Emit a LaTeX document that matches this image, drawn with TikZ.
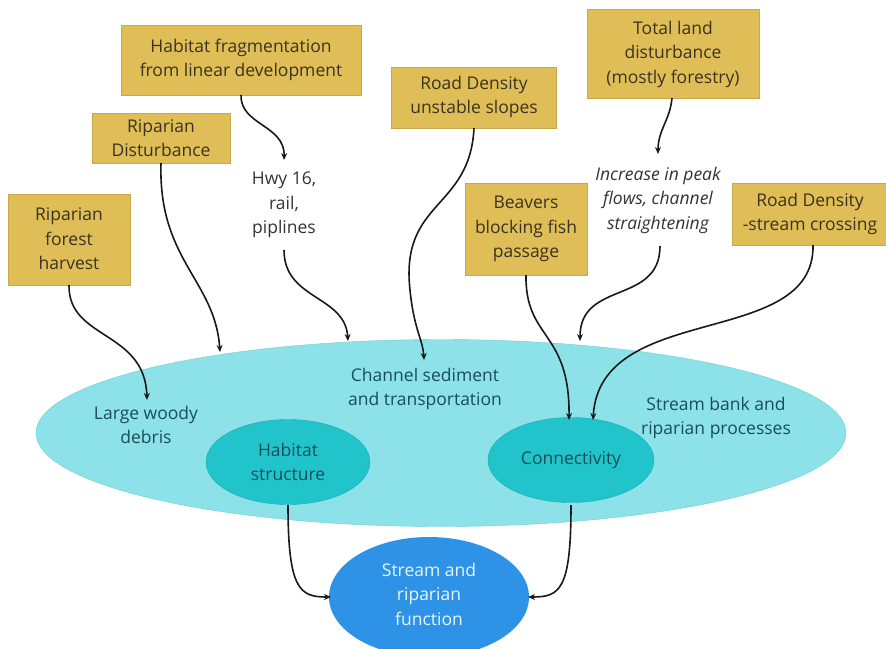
\documentclass[tikz,border=0pt]{standalone}
\usepackage{fontspec}
\setmainfont{Open Sans}
\usetikzlibrary{arrows.meta,shapes.geometric}
\definecolor{boxfill}{HTML}{DFBE57}
\definecolor{boxline}{HTML}{C9A94A}
\definecolor{bigell}{HTML}{8CE2E8}
\definecolor{bigline}{HTML}{6FCCD4}
\definecolor{smallell}{HTML}{22C4CC}
\definecolor{bluefn}{HTML}{2E93E6}
\definecolor{tealtxt}{HTML}{184E58}
\definecolor{boxtxt}{HTML}{3A3320}
\begin{document}
\begin{tikzpicture}[x=1pt,y=-1pt,
  every node/.style={font=\fontsize{17.5}{24.5}\selectfont, align=center, inner sep=0pt},
  ybox/.style={draw=boxline, fill=boxfill, text=boxtxt, line width=0.8pt},
  plain/.style={text=black!80},
  intext/.style={text=tealtxt},
  conn/.style={line width=1.6pt, black!90, -{Stealth[length=7pt,width=6pt]}}]
\useasboundingbox (0,0) rectangle (886,648);
% ellipses
\node[ellipse, draw=bigline, fill=bigell, minimum width=810pt, minimum height=187pt] (big) at (441,433) {};
\node[ellipse, fill=smallell, draw=smallell!85!black, minimum width=164pt, minimum height=85pt] (hab) at (288,462) {};
\node[ellipse, fill=smallell, draw=smallell!85!black, minimum width=166pt, minimum height=85pt] (con) at (571,460) {};
\node[ellipse, fill=bluefn, minimum width=200pt, minimum height=120pt] (fn) at (429,597) {};
\node[intext] at (hab) {Habitat\\structure};
\node[intext] at (con) {Connectivity};
\node[text=white!90!cyan] at (429,594) {Stream and\\riparian\\function};
\node[intext] (lwd) at (146,425) {Large woody\\debris};
\node[intext] (chs) at (425,389) {Channel sediment\\and transportation};
\node[intext] (sbr) at (716,418) {Stream bank and\\riparian processes};
% boxes
\path[ybox] (121,25) rectangle (361,95);
\node[text=boxtxt] (hf) at (241,60) {Habitat fragmentation\\from linear development};
\path[ybox] (92,113) rectangle (230,163);
\node[text=boxtxt] (rd) at (161,138) {Riparian\\Disturbance};
\path[ybox] (8,194) rectangle (130,285);
\node[text=boxtxt] (rf) at (69,239) {Riparian\\forest\\harvest};
\path[ybox] (391,67) rectangle (556,128);
\node[text=boxtxt] (rds) at (474,97) {Road Density\\unstable slopes};
\path[ybox] (587,9) rectangle (759,98);
\node[text=boxtxt] (tl) at (673,54) {Total land\\disturbance\\(mostly forestry)};
\path[ybox] (465,183) rectangle (587,275);
\node[text=boxtxt] (bv) at (526,229) {Beavers\\blocking fish\\passage};
\path[ybox] (732,183) rectangle (890,245);
\node[text=boxtxt] (rsc) at (810,214) {Road Density\\-stream crossing};
% plain texts
\node[plain] (hwy) at (284,205) {Hwy 16,\\rail,\\piplines};
\node[plain, font=\fontsize{17.5}{24.5}\selectfont\itshape] (inc) at (658,200) {Increase in peak\\flows, channel\\straightening};
% connector endpoints
\coordinate (hfb) at (241,95);
\coordinate (rdb) at (161,163);
\coordinate (rfb) at (69,285);
\coordinate (rdsb) at (474,128);
\coordinate (tlb) at (672,98);
\coordinate (bvb) at (526,275);
\coordinate (rscb) at (813,245);
\coordinate (hwyt) at (284,160);
\coordinate (hwyb) at (284,250);
\coordinate (inct) at (658,154);
\coordinate (incb) at (660,246);
\coordinate (e1) at (220,352);
\coordinate (e2) at (348,341);
\coordinate (e3) at (580,341);
\coordinate (lwdt) at (147,400);
\coordinate (chst) at (424,360);
\coordinate (conl) at (569,420);
\coordinate (conr) at (593,420);
\coordinate (habb) at (288,505);
\coordinate (conb) at (571,505);
\coordinate (fnl) at (331,597);
\coordinate (fnr) at (528,597);
% connectors
\draw[conn] (hfb) .. controls (240,125) and (285,125) .. (hwyt);
\draw[conn] (rdb) .. controls (158,260) and (215,280) .. (e1);
\draw[conn] (rfb) .. controls (68,340) and (145,330) .. (lwdt);
\draw[conn] (hwyb) .. controls (284,300) and (345,295) .. (e2);
\draw[conn] (rdsb) .. controls (470,210) and (400,200) .. (410,290) .. controls (414,330) and (423,340) .. (chst);
\draw[conn] (tlb) .. controls (670,120) and (658,130) .. (inct);
\draw[conn] (bvb) .. controls (525,340) and (570,330) .. (conl);
\draw[conn] (incb) .. controls (660,305) and (580,280) .. (e3);
\draw[conn] (rscb) .. controls (815,350) and (600,300) .. (conr);
\draw[conn] (habb) .. controls (288,590) and (300,597) .. (fnl);
\draw[conn] (conb) .. controls (571,590) and (560,597) .. (fnr);
\end{tikzpicture}
\end{document}
